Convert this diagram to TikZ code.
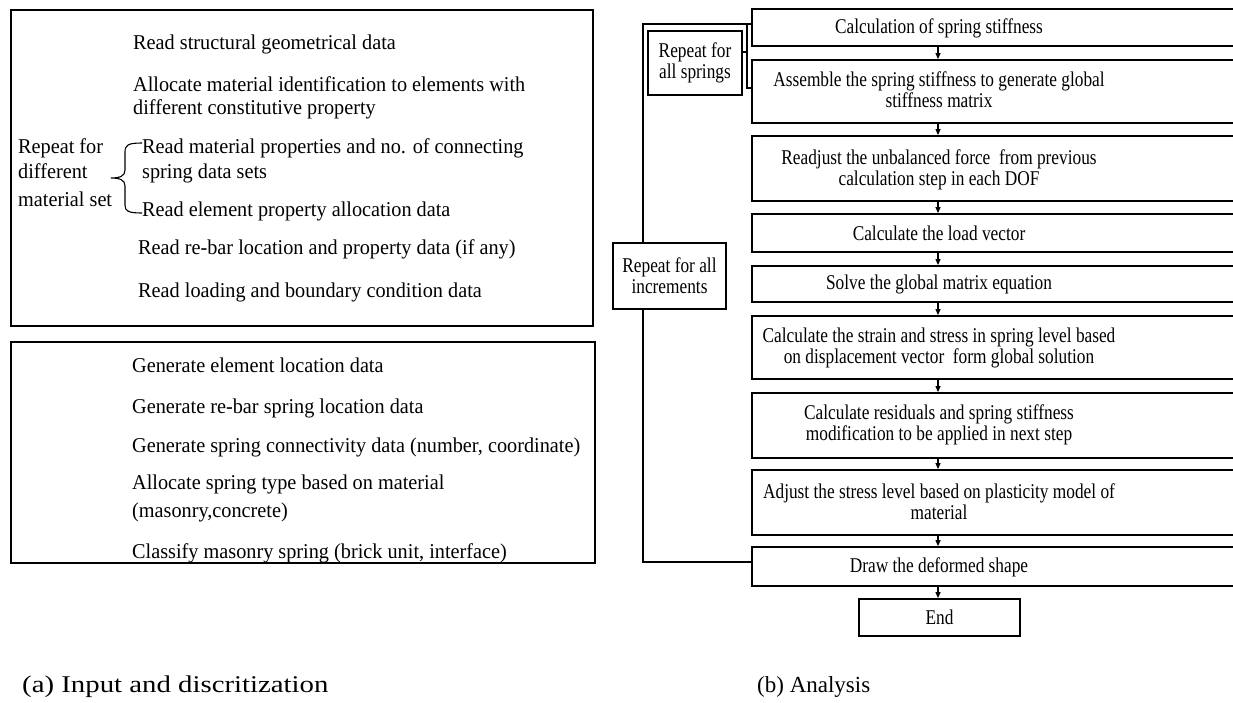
\documentclass[tikz,border=0pt]{standalone}
\usepackage{fontspec}
\setmainfont{Liberation Serif}
\newfontfamily\lfam[FakeStretch=0.96]{Liberation Serif}
\newfontfamily\rfam[FakeStretch=0.824]{Liberation Serif}
\newfontfamily\cafam[FakeStretch=1.2]{Liberation Serif}
\usetikzlibrary{arrows.meta}
\newcommand\lfnt{\lfam\fontsize{21.1}{23.5}\selectfont}
\newcommand\rfnt{\rfam\fontsize{21}{21}\selectfont}
\newcommand\capfnt{\fontsize{23}{26}\selectfont}
\newcommand\capafnt{\cafam\fontsize{24}{26}\selectfont}
\tikzset{
  lbox/.style={draw, line width=1.7pt, inner sep=0pt, anchor=north west},
  rbox/.style={draw, line width=1.8pt, fill=white, inner sep=0pt},
  ltext/.style={anchor=base west, inner sep=0pt, font=\lfnt},
  rtext/.style={align=center, inner sep=0pt, font=\rfnt},
  captext/.style={anchor=base west, inner sep=0pt, font=\capfnt},
  arr/.style={-{Triangle[length=6pt,width=5pt]}, line width=1.1pt},
  conn/.style={line width=1.3pt}
}
\begin{document}
\begin{tikzpicture}[x=1pt,y=-1pt]
\clip (0,0) rectangle (1233,702);
% ---------- (a) ----------
\node[lbox, minimum width=582, minimum height=316] (inbox) at (10,9) {};
\node[lbox, minimum width=584, minimum height=221] (genbox) at (10,341) {};
\node[ltext] (a1) at (133,49) {Read structural geometrical data};
\node[ltext] (a2) at (133,91) {Allocate material identification to elements with};
\node[ltext] (a2b) at (133,114) {different constitutive property};
\node[ltext] (a3) at (142,153) {Read material properties and no. of connecting};
\node[ltext] (a3b) at (142,178) {spring data sets};
\node[ltext] (a4) at (142,216) {Read element property allocation data};
\node[ltext] (a5) at (138,254) {Read re-bar location and property data (if any)};
\node[ltext] (a6) at (138,297) {Read loading and boundary condition data};
\node[ltext] (r1) at (18,153) {Repeat for};
\node[ltext] (r2) at (18,178) {different};
\node[ltext] (r3) at (18,206) {material set};
\draw[line width=1.1pt] (142,143) .. controls (128,143) and (125,145) .. (125,152) -- (125,170)
  .. controls (125,176) and (120,178) .. (111,178)
  .. controls (120,178) and (125,180) .. (125,186) -- (125,205)
  .. controls (125,211) and (128,213) .. (142,213);
\node[ltext] (g1) at (132,372) {Generate element location data};
\node[ltext] (g2) at (132,413) {Generate re-bar spring location data};
\node[ltext] (g3) at (132,452) {Generate spring connectivity data (number, coordinate)};
\node[ltext] (g4) at (132,489) {Allocate spring type based on material};
\node[ltext] (g4b) at (132,517) {(masonry,concrete)};
\node[ltext] (g5) at (132,558) {Classify masonry spring (brick unit, interface)};
% ---------- (b) ----------
\coordinate (tl) at (643,24);
\coordinate (lp) at (643,562);
\coordinate (sp) at (747,24);
\coordinate (ax) at (938,0);
\node[rbox, minimum width=488, minimum height=37] (b1) at (996,27.5) {};
\node[rbox, minimum width=488, minimum height=63] (b2) at (996,91.5) {};
\node[rbox, minimum width=488, minimum height=65] (b3) at (996,168.5) {};
\node[rbox, minimum width=488, minimum height=38] (b4) at (996,233) {};
\node[rbox, minimum width=488, minimum height=36] (b5) at (996,284) {};
\node[rbox, minimum width=488, minimum height=63] (b6) at (996,347.5) {};
\node[rbox, minimum width=488, minimum height=65] (b7) at (996,425.5) {};
\node[rbox, minimum width=488, minimum height=65] (b8) at (996,502.5) {};
\node[rbox, minimum width=488, minimum height=39] (b9) at (996,566.5) {};
\node[rbox, minimum width=161, minimum height=37, font=\rfnt] (end) at (939.5,617.5) {End};
\node[rtext] (t1) at (939,28) {Calculation of spring stiffness};
\node[rtext] (t2) at (939,90) {Assemble the spring stiffness to generate global\\stiffness matrix};
\node[rtext] (t3) at (939,170) {Readjust the unbalanced force \ from previous\\calculation step in each DOF};
\node[rtext] (t4) at (939,233) {Calculate the load vector};
\node[rtext] (t5) at (939,284) {Solve the global matrix equation};
\node[rtext] (t6) at (939,348) {Calculate the strain and stress in spring level based\\on displacement vector \ form global solution};
\node[rtext] (t7) at (939,425) {Calculate residuals and spring stiffness\\modification to be applied in next step};
\node[rtext] (t8) at (939,502) {Adjust the stress level based on plasticity model of\\material};
\node[rtext] (t9) at (939,567) {Draw the deformed shape};
\draw[conn] (b1.west |- tl) -- (tl) -- (lp) -- (b9.west |- lp);
\draw[conn] (sp) -- (sp |- 0,88) -- (b2.west |- 0,88);
\node[rbox, line width=1.6pt, minimum width=94, minimum height=64, align=center, font=\rfnt] (rs) at (695,63) {Repeat for\\all springs};
\draw[conn] (rs.east |- 0,52) -- (sp |- 0,52);
\node[rbox, line width=1.6pt, minimum width=113, minimum height=66, align=center, font=\rfnt] (ri) at (669.5,276) {Repeat for all\\increments};
\draw[arr] (b1.south -| ax) -- (b2.north -| ax);
\draw[arr] (b2.south -| ax) -- (b3.north -| ax);
\draw[arr] (b3.south -| ax) -- (b4.north -| ax);
\draw[arr] (b4.south -| ax) -- (b5.north -| ax);
\draw[arr] (b5.south -| ax) -- (b6.north -| ax);
\draw[arr] (b6.south -| ax) -- (b7.north -| ax);
\draw[arr] (b7.south -| ax) -- (b8.north -| ax);
\draw[arr] (b8.south -| ax) -- (b9.north -| ax);
\draw[arr] (b9.south -| ax) -- (end.north -| ax);
% captions
\node[captext, font=\capafnt] (capa) at (22,692) {(a) Input and discritization};
\node[captext] (capb) at (757,692) {(b) Analysis};
\end{tikzpicture}
\end{document}
